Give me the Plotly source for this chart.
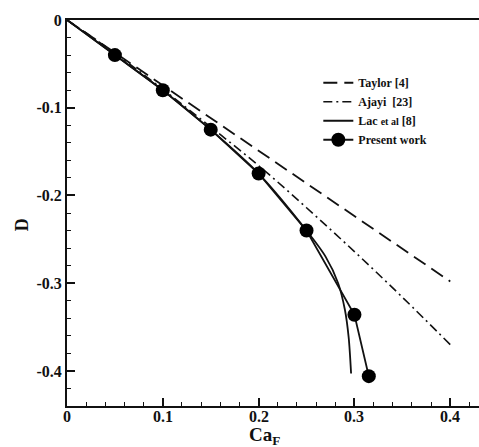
import plotly.graph_objects as go

# Taylor [4]
taylor_ca = [0.0, 0.4]
taylor_d = [0.0, -0.298]

# Ajayi [23]
ajayi_ca = [0.0, 0.05, 0.1, 0.15, 0.2, 0.25, 0.3, 0.35, 0.4]
ajayi_d = [0.0, -0.038, -0.079, -0.122, -0.166, -0.214, -0.264, -0.316, -0.370]

# Lac et al [8]
lac_ca = [0.0, 0.05, 0.1, 0.15, 0.2, 0.25, 0.27, 0.283, 0.290, 0.294, 0.2965]
lac_d = [0.0, -0.040, -0.080, -0.125, -0.175, -0.240, -0.270, -0.300, -0.330, -0.362, -0.403]

# Present work
pw_ca = [0.0, 0.05, 0.1, 0.15, 0.2, 0.25, 0.3, 0.315]
pw_d = [0.0, -0.040, -0.080, -0.125, -0.175, -0.240, -0.336, -0.406]

x_ticks = [0, 0.1, 0.2, 0.3, 0.4]
x_ticklabels = ["0", "0.1", "0.2", "0.3", "0.4"]
y_ticks = [0, -0.1, -0.2, -0.3, -0.4]
y_ticklabels = ["0", "-0.1", "-0.2", "-0.3", "-0.4"]

FONT = "Liberation Serif"
INK = "#111111"

fig = go.Figure()
fig.add_trace(go.Scatter(x=taylor_ca, y=taylor_d, mode="lines", name="Taylor [4]",
                         line=dict(color=INK, width=1.8, dash="14px,7px")))
fig.add_trace(go.Scatter(x=ajayi_ca, y=ajayi_d, mode="lines", name="Ajayi  [23]",
                         line=dict(color=INK, width=1.6, dash="9px,4px,2px,4px", shape="spline")))
fig.add_trace(go.Scatter(x=lac_ca, y=lac_d, mode="lines",
                         name="Lac <span style='font-size:10px'>et al</span> [8]",
                         line=dict(color=INK, width=1.8, shape="spline", smoothing=0.8)))
# present work: connecting line from origin, then measured points with markers
fig.add_trace(go.Scatter(x=pw_ca[:2], y=pw_d[:2], mode="lines", showlegend=False,
                         line=dict(color=INK, width=1.8)))
fig.add_trace(go.Scatter(x=pw_ca[1:], y=pw_d[1:], mode="lines+markers", name="Present work",
                         line=dict(color=INK, width=1.8),
                         marker=dict(color="black", size=14, symbol="circle")))

# x tick labels placed close under the axis, at the tick values
x_label_annotations = [
    dict(text="<b>%s</b>" % lab, xref="x", yref="paper", x=val, y=-0.002,
         xanchor="center", yanchor="top", showarrow=False, borderpad=0,
         font=dict(family=FONT, size=16, color=INK))
    for val, lab in zip(x_ticks, x_ticklabels)
]

fig.update_layout(
    width=479, height=447,
    margin=dict(l=67, r=0, t=20, b=41),
    paper_bgcolor="white", plot_bgcolor="white",
    font=dict(family=FONT, size=14, color=INK, weight="bold"),
    showlegend=True,
    legend=dict(x=0.61, y=0.875, xanchor="left", yanchor="top",
                bgcolor="rgba(0,0,0,0)", font=dict(family=FONT, size=12, weight="bold", color=INK),
                tracegroupgap=0, itemwidth=30),
    annotations=x_label_annotations + [
        dict(text="<b>Ca<sub>F</sub></b>", xref="paper", yref="paper", x=0.48, y=-0.078,
             xanchor="center", yanchor="middle", showarrow=False,
             font=dict(family=FONT, size=19, color=INK)),
        dict(text="<b>D</b>", xref="paper", yref="paper", x=-0.11, y=0.47,
             xanchor="center", yanchor="middle", showarrow=False, textangle=-90,
             font=dict(family=FONT, size=18, color=INK)),
    ],
)
fig.update_xaxes(
    range=[0, 0.43], tickvals=x_ticks, showticklabels=False,
    ticks="inside", ticklen=8, tickwidth=1.5, tickcolor=INK,
    minor=dict(dtick=0.02, tick0=0, ticks="inside", ticklen=4, tickcolor=INK, tickwidth=1),
    showline=True, linecolor=INK, linewidth=2, mirror=True,
    showgrid=False, zeroline=False,
)
fig.update_yaxes(
    range=[-0.44, 0], tickvals=y_ticks, ticktext=["<b>%s</b>" % t for t in y_ticklabels],
    tickfont=dict(family=FONT, size=16, color=INK),
    ticks="inside", ticklen=8, tickwidth=1.5, tickcolor=INK,
    minor=dict(dtick=0.02, tick0=0, ticks="inside", ticklen=4, tickcolor=INK, tickwidth=1),
    showline=True, linecolor=INK, linewidth=2, mirror=False,
    showgrid=False, zeroline=False,
)

fig.write_html("out.html")
